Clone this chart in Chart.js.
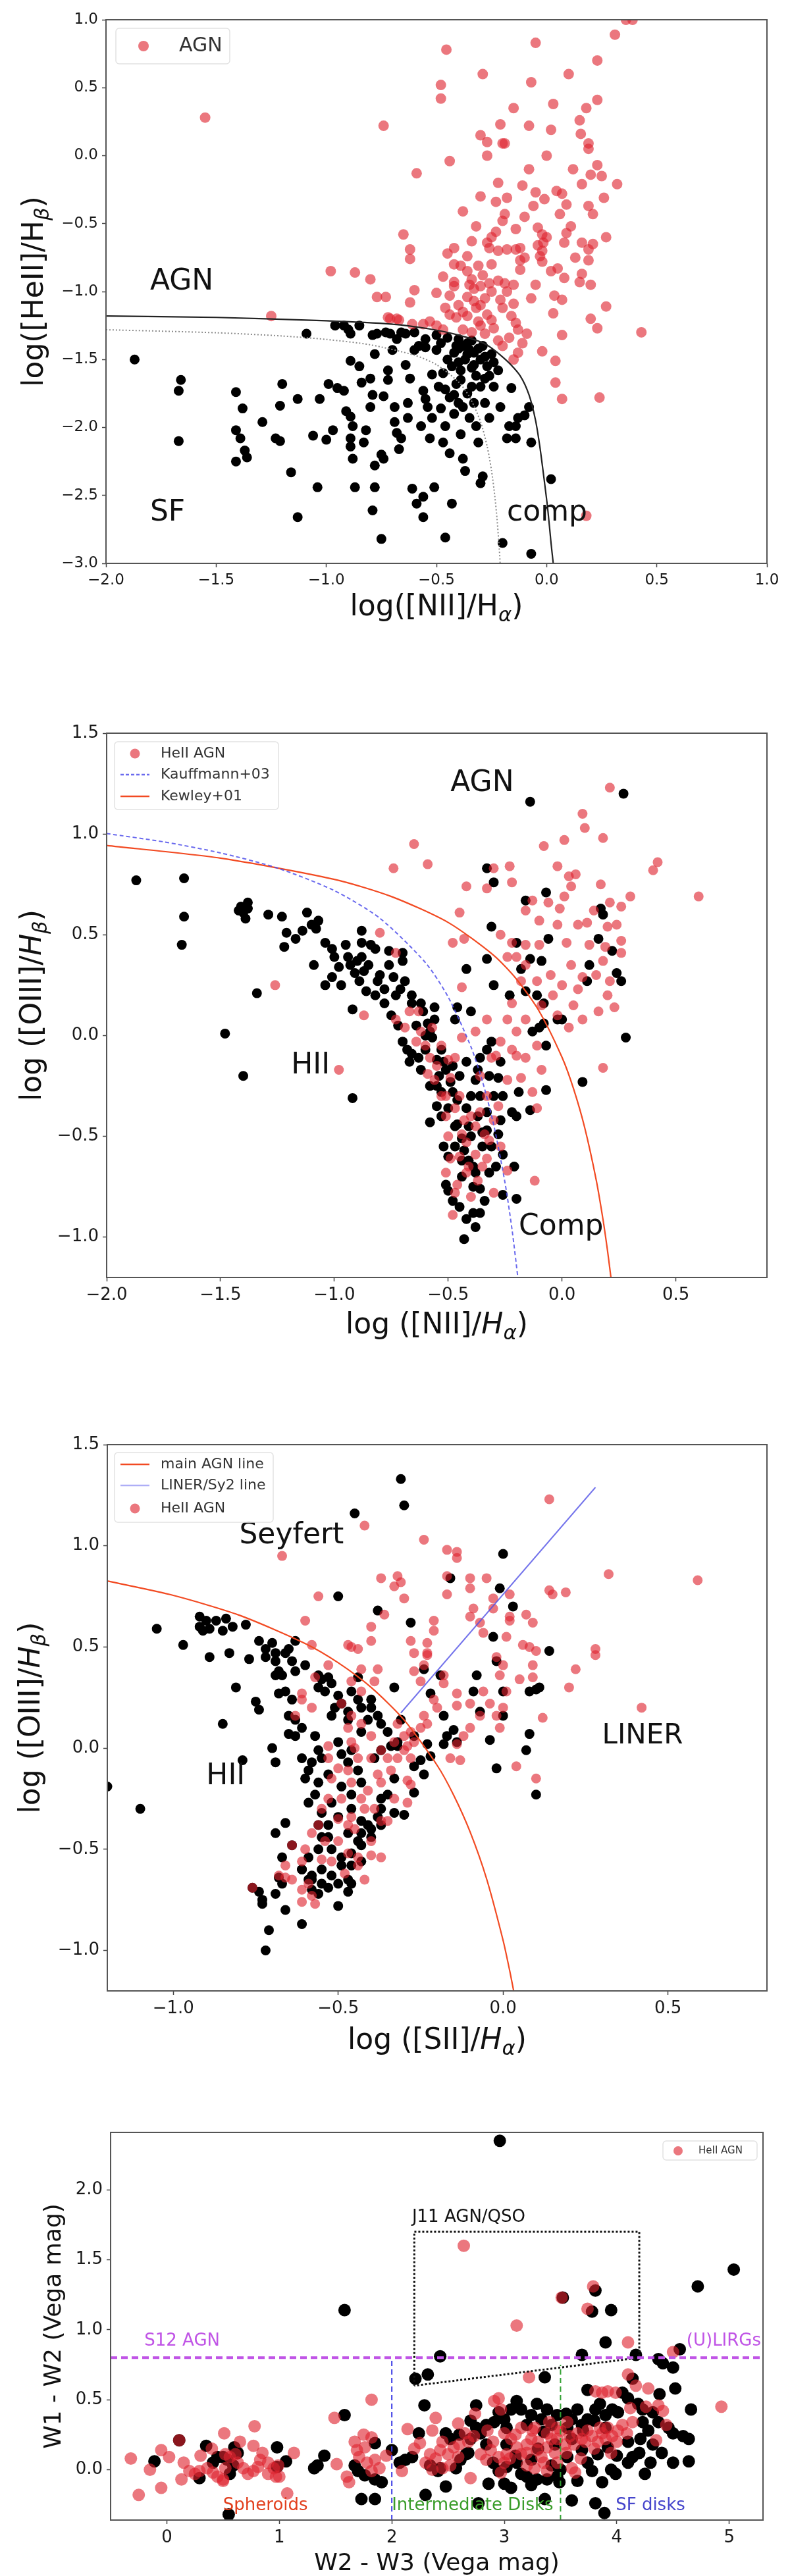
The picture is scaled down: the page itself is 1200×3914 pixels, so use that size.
<!DOCTYPE html>
<html>
<head>
<meta charset="utf-8">
<script src="https://cdn.jsdelivr.net/npm/chart.js@4.4.1/dist/chart.umd.min.js"></script>
<style>
  body { margin: 0; background: #fff; width: 1200px; height: 3914px; position: relative; }
  .panel { position: absolute; left: 0; width: 1200px; }
</style>
</head>
<body>
<div class="panel" style="top:0;height:960px"><canvas id="c1"></canvas></div>
<div class="panel" style="top:1060px;height:1000px"><canvas id="c2"></canvas></div>
<div class="panel" style="top:2140px;height:1000px"><canvas id="c3"></canvas></div>
<div class="panel" style="top:3200px;height:714px"><canvas id="c4"></canvas></div>
<script>
// ---- panel 1: HeII diagram ----
const p1XTicks = [-2, -1.5, -1, -0.5, 0, 0.5, 1];
const p1YTicks = [-3, -2.5, -2, -1.5, -1, -0.5, 0, 0.5, 1];
const p1SfBlack = [[-1.87,-1.50],[-1.66,-1.65],[-1.67,-1.73],[-1.67,-2.10],[-1.41,-1.74],[-1.38,-1.86],[-1.41,-2.02],[-1.39,-2.08],[-1.37,-2.17],[-1.36,-2.22],[-1.41,-2.25],[-1.29,-1.96],[-1.23,-2.08],[-1.21,-2.10],[-1.21,-1.84],[-1.20,-1.68],[-1.16,-2.33],[-1.13,-1.79],[-1.13,-2.66],[-1.09,-1.31],[-1.06,-2.06],[-1.03,-1.79],[-1.04,-2.44],[-1.00,-2.09],[-0.99,-1.68],[-0.97,-2.02],[-0.95,-1.71],[-0.92,-1.73],[-0.92,-1.25],[-0.89,-1.31],[-0.89,-1.51],[-0.91,-1.88],[-0.89,-1.92],[-0.88,-1.99],[-0.89,-2.08],[-0.89,-2.14],[-0.88,-2.23],[-0.87,-2.44],[-0.85,-1.25],[-0.85,-1.55],[-0.84,-1.67],[-0.83,-2.11],[-0.82,-2.02],[-0.80,-1.85],[-0.80,-1.64],[-0.79,-1.76],[-0.78,-2.28],[-0.78,-2.44],[-0.79,-2.61],[-0.78,-1.46],[-0.77,-1.31],[-0.75,-2.82],[-0.75,-2.20],[-0.74,-2.23],[-0.74,-1.77],[-0.72,-1.58],[-0.72,-1.65],[-0.71,-1.31],[-0.70,-1.43],[-0.69,-1.96],[-0.69,-1.85],[-0.68,-2.04],[-0.67,-2.16],[-0.66,-2.08],[-0.64,-1.31],[-0.64,-1.54],[-0.63,-1.82],[-0.63,-1.93],[-0.62,-1.64],[-0.61,-2.45],[-0.60,-1.43],[-0.59,-2.56],[-0.57,-1.99],[-0.56,-2.66],[-0.56,-2.51],[-0.56,-1.73],[-0.55,-1.79],[-0.54,-1.85],[-0.53,-2.08],[-0.52,-1.93],[-0.52,-1.61],[-0.51,-2.44],[-0.50,-1.43],[-0.49,-1.70],[-0.48,-1.86],[-0.47,-2.11],[-0.46,-2.81],[-0.46,-1.99],[-0.44,-2.19],[-0.43,-2.56],[-0.42,-1.76],[-0.41,-1.40],[-0.40,-1.52],[-0.40,-1.82],[-0.39,-1.65],[-0.39,-2.05],[-0.38,-2.23],[-0.37,-2.32],[-0.36,-1.46],[-0.35,-1.93],[-0.34,-1.70],[-0.33,-1.54],[-0.33,-1.82],[-0.32,-1.99],[-0.31,-2.11],[-0.30,-2.41],[-0.29,-2.36],[-0.28,-1.64],[-0.28,-1.82],[-0.26,-1.93],[-0.25,-1.46],[-0.24,-1.70],[-0.22,-1.58],[-0.21,-1.85],[-0.20,-2.85],[-0.18,-2.08],[-0.17,-1.99],[-0.16,-1.71],[-0.14,-2.08],[-0.14,-1.99],[-0.13,-1.93],[-0.10,-1.91],[-0.08,-1.85],[-0.07,-2.11],[-0.07,-2.93],[0.02,-2.38],[-0.42,-1.45],[-0.40,-1.42],[-0.38,-1.40],[-0.36,-1.38],[-0.35,-1.43],[-0.33,-1.45],[-0.31,-1.42],[-0.30,-1.50],[-0.28,-1.48],[-0.37,-1.50],[-0.34,-1.56],[-0.39,-1.58],[-0.43,-1.55],[-0.45,-1.50],[-0.47,-1.60],[-0.41,-1.68],[-0.36,-1.75],[-0.44,-1.78],[-0.38,-1.85],[-0.42,-1.90],[-0.46,-1.72],[-0.32,-1.62],[-0.27,-1.55],[-0.26,-1.62],[-0.24,-1.52],[-0.30,-1.70],[-0.34,-1.36],[-0.40,-1.35],[-0.29,-1.40],[-0.60,-1.30],[-0.55,-1.35],[-0.50,-1.32],[-0.48,-1.38],[-0.58,-1.40],[-0.68,-1.35],[-0.96,-1.25],[-0.90,-1.28],[-0.79,-1.32],[-0.73,-1.30],[-0.66,-1.30],[-0.55,-1.41],[-0.45,-1.34]];
const p1AgnRed = [[-1.55,0.28],[-1.25,-1.18],[-0.98,-0.85],[-0.87,-0.86],[-0.80,-0.91],[-0.77,-1.04],[-0.73,-1.04],[-0.74,0.22],[-0.71,-1.20],[-0.67,-1.21],[-0.65,-0.58],[-0.62,-0.69],[-0.62,-0.76],[-0.60,-0.99],[-0.62,-1.08],[-0.59,-0.13],[-0.56,-1.24],[-0.455,0.78],[-0.29,0.60],[-0.48,0.52],[-0.48,0.42],[-0.05,0.83],[0.10,0.60],[-0.07,0.54],[0.23,0.70],[0.31,0.89],[0.03,0.38],[0.18,0.35],[0.23,0.41],[-0.15,0.35],[0.15,0.26],[0.155,0.16],[0.19,0.09],[0.19,0.05],[-0.21,0.23],[-0.08,0.22],[0.02,0.19],[-0.30,0.15],[-0.27,0.10],[-0.20,0.09],[-0.19,0.09],[-0.27,0.0],[0.0,0.0],[-0.44,-0.04],[-0.08,-0.10],[0.23,-0.07],[0.20,-0.14],[-0.22,-0.20],[-0.11,-0.22],[0.16,-0.21],[0.32,-0.21],[-0.05,-0.27],[-0.01,-0.32],[0.045,-0.26],[0.07,-0.28],[0.09,-0.36],[-0.18,-0.31],[-0.23,-0.34],[-0.06,-0.37],[0.06,-0.43],[0.26,-0.31],[0.19,-0.37],[0.21,-0.43],[-0.38,-0.41],[-0.19,-0.43],[-0.20,-0.48],[-0.32,-0.52],[-0.23,-0.56],[-0.14,-0.54],[-0.04,-0.53],[-0.02,-0.58],[-0.015,-0.64],[-0.02,-0.70],[0.11,-0.52],[0.09,-0.57],[0.08,-0.64],[0.27,-0.60],[-0.34,-0.63],[-0.42,-0.68],[-0.45,-0.72],[-0.26,-0.68],[-0.22,-0.70],[-0.18,-0.69],[-0.14,-0.69],[-0.12,-0.68],[-0.04,-0.66],[-0.03,-0.74],[0.16,-0.64],[0.21,-0.65],[0.19,-0.69],[-0.36,-0.74],[-0.12,-0.77],[-0.10,-0.75],[0.13,-0.75],[0.19,-0.77],[-0.31,-0.81],[-0.42,-0.80],[-0.39,-0.81],[-0.02,-0.78],[0.02,-0.85],[0.05,-0.83],[0.08,-0.90],[-0.12,-0.84],[-0.47,-0.89],[-0.42,-0.93],[-0.42,-0.96],[-0.34,-0.91],[-0.30,-0.96],[-0.26,-0.94],[-0.22,-0.92],[-0.19,-0.94],[0.16,-0.87],[0.15,-0.93],[0.20,-0.95],[-0.50,-1.01],[-0.44,-1.03],[-0.36,-1.04],[-0.33,-1.07],[-0.28,-1.05],[-0.21,-1.06],[-0.15,-1.09],[-0.07,-1.05],[0.035,-1.03],[0.07,-1.06],[0.27,-1.11],[-0.44,-1.17],[-0.41,-1.19],[-0.36,-1.18],[-0.31,-1.22],[-0.27,-1.17],[-0.25,-1.21],[-0.16,-1.18],[-0.14,-1.23],[0.03,-1.16],[0.20,-1.20],[0.23,-1.27],[-0.72,-1.19],[-0.68,-1.20],[-0.53,-1.22],[-0.50,-1.25],[-0.47,-1.28],[-0.61,-1.24],[-0.38,-1.28],[-0.34,-1.30],[-0.28,-1.31],[-0.22,-1.36],[-0.09,-1.31],[-0.11,-1.38],[-0.13,-1.45],[-0.15,-1.50],[-0.02,-1.44],[0.04,-1.51],[0.07,-1.32],[0.04,-1.67],[0.07,-1.79],[0.24,-1.78],[0.43,-1.30],[0.36,1.0],[0.39,1.0],[0.18,-2.65],[-0.30,-0.30],[-0.25,-0.60],[-0.27,-0.64],[-0.36,-0.85],[-0.33,-0.98],[-0.25,-1.00],[-0.20,-1.12],[-0.32,-1.12],[-0.40,-1.10],[-0.46,-1.12],[-0.13,-1.28],[-0.17,-1.34],[-0.20,-1.40],[-0.24,-1.27],[-0.30,-1.25],[-0.35,-0.95],[-0.30,-1.10],[-0.25,-0.80],[-0.15,-0.95],[-0.05,-0.95],[0.0,-0.60],[-0.10,-0.45],[0.12,-0.10],[0.25,-0.15],[-0.38,-1.15],[-0.29,-0.88],[-0.18,-1.00]];
const p1AgnLine = [[-2.0,-1.18],[-1.5,-1.19],[-1.0,-1.215],[-0.7,-1.24],[-0.55,-1.27],[-0.4,-1.32],[-0.28,-1.385],[-0.18,-1.51],[-0.12,-1.62],[-0.08,-1.76],[-0.05,-1.95],[-0.03,-2.15],[-0.01,-2.4],[0.005,-2.6],[0.02,-2.85],[0.03,-3.0]];
const p1SbLine = [[-2.0,-1.281],[-1.5,-1.303],[-1.2,-1.327],[-1.0,-1.352],[-0.8,-1.392],[-0.6,-1.468],[-0.5,-1.538],[-0.4,-1.665],[-0.35,-1.775],[-0.3,-1.957],[-0.27,-2.139],[-0.25,-2.319],[-0.235,-2.509],[-0.225,-2.676],[-0.215,-2.892],[-0.211,-3.0]];

// ---- panel 2: [NII] BPT ----
const p2XTicks = [-2, -1.5, -1, -0.5, 0, 0.5];
const p2YTicks = [-1, -0.5, 0, 0.5, 1, 1.5];
const p2Black = [[-1.87,0.77],[-1.66,0.78],[-1.66,0.59],[-1.67,0.45],[-1.48,0.01],[-1.40,-0.20],[-1.34,0.21],[-1.41,0.64],[-1.40,0.61],[-1.38,0.63],[-1.39,0.58],[-1.42,0.62],[-1.38,0.66],[-1.29,0.60],[-1.23,0.59],[-1.21,0.51],[-1.22,0.44],[-1.17,0.48],[-1.14,0.52],[-1.12,0.61],[-1.08,0.53],[-1.07,0.57],[-1.09,0.35],[-1.04,0.46],[-1.01,0.43],[-1.04,0.25],[-1.01,0.29],[-1.00,0.39],[-0.98,0.34],[-0.94,0.39],[-0.93,0.35],[-0.91,0.31],[-0.89,0.27],[-0.90,0.37],[-0.88,0.39],[-0.87,0.32],[-0.88,0.52],[-0.88,0.46],[-0.92,0.13],[-0.92,-0.31],[-0.84,0.45],[-0.82,0.43],[-0.81,0.27],[-0.82,0.20],[-0.86,0.22],[-0.78,0.23],[-0.78,0.16],[-0.76,0.42],[-0.74,0.29],[-0.73,0.20],[-0.71,0.23],[-0.70,0.37],[-0.69,0.27],[-0.66,0.20],[-0.66,0.16],[-0.70,0.41],[-0.62,0.16],[-0.61,0.12],[-0.59,0.06],[-0.58,0.02],[-0.57,-0.01],[-0.56,0.08],[-0.70,-0.03],[-0.68,-0.07],[-0.66,-0.09],[-0.63,-0.11],[-0.60,-0.07],[-0.67,-0.13],[-0.62,-0.17],[-0.56,0.14],[-0.53,-0.07],[-0.52,-0.13],[-0.51,-0.17],[-0.54,-0.20],[-0.49,-0.23],[-0.48,-0.28],[-0.46,-0.32],[-0.53,-0.28],[-0.50,-0.36],[-0.58,-0.43],[-0.52,-0.55],[-0.51,-0.74],[-0.50,-0.77],[-0.48,-0.82],[-0.43,-1.01],[-0.42,-0.91],[-0.39,-0.88],[-0.46,-0.44],[-0.44,-0.51],[-0.43,-0.57],[-0.41,-0.62],[-0.39,-0.65],[-0.38,-0.68],[-0.36,-0.76],[-0.34,-0.82],[-0.42,-0.36],[-0.40,-0.30],[-0.38,-0.22],[-0.37,-0.17],[-0.36,-0.11],[-0.33,-0.07],[-0.31,-0.03],[-0.46,0.14],[-0.47,0.08],[-0.40,0.12],[-0.37,-0.40],[-0.33,-0.47],[-0.31,-0.55],[-0.28,-0.49],[-0.27,-0.42],[-0.30,-0.30],[-0.28,-0.21],[-0.27,-0.13],[-0.32,-0.68],[-0.29,-0.65],[-0.26,-0.59],[-0.26,-0.79],[-0.26,-0.30],[-0.22,-0.38],[-0.21,-0.65],[-0.20,-0.81],[-0.19,-0.28],[-0.20,-0.40],[-0.42,0.33],[-0.33,0.38],[-0.30,0.25],[-0.33,0.83],[-0.30,0.76],[-0.31,0.54],[-0.23,0.20],[-0.20,0.46],[-0.18,0.33],[-0.16,0.67],[-0.16,0.22],[-0.11,0.20],[-0.08,0.16],[-0.13,0.02],[-0.10,0.04],[-0.08,0.06],[-0.07,-0.05],[-0.07,-0.27],[-0.06,0.48],[-0.09,0.37],[-0.07,0.71],[-0.14,0.38],[-0.02,0.08],[0.0,0.08],[0.09,-0.23],[0.11,0.27],[0.12,0.35],[0.16,0.48],[0.17,0.63],[0.18,0.60],[0.22,0.42],[0.24,0.31],[0.26,0.27],[0.28,-0.01],[-0.14,-0.37],[0.27,1.20],[-0.14,1.16],[-0.55,-0.35],[-0.45,-0.20],[-0.50,-0.60],[-0.44,-0.70],[-0.35,-0.55],[-0.40,-0.50],[-0.36,-0.30],[-0.32,-0.20],[-0.47,-0.45],[-0.55,-0.25],[-0.60,0.0],[-0.64,0.05],[-0.75,0.10],[-0.80,0.30],[-0.95,0.45],[-0.97,0.25],[-1.10,0.55],[-0.85,0.35],[-0.76,0.35],[-0.72,0.05],[-0.55,-0.12],[-0.42,-0.13],[-0.38,-0.95],[-0.45,-0.85],[-0.36,-0.88],[-0.44,-0.62],[-0.41,-0.45],[-0.47,-0.55],[-0.35,-0.48],[-0.39,-0.75],[-0.33,-0.38],[-0.48,-0.15],[-0.58,-0.25],[-0.53,-0.40]];
const p2HeiiRed = [[-1.26,0.25],[-0.98,-0.17],[-0.87,0.10],[-0.80,0.51],[-0.74,0.83],[-0.73,0.41],[-0.65,0.95],[-0.63,0.12],[-0.59,0.85],[-0.57,0.04],[-0.48,0.46],[-0.45,0.61],[-0.44,0.24],[-0.43,0.48],[-0.42,0.74],[-0.33,0.73],[-0.30,0.83],[-0.23,0.84],[-0.22,0.76],[-0.27,0.50],[-0.22,0.46],[-0.16,0.45],[-0.16,0.62],[-0.13,0.67],[-0.10,0.57],[-0.08,0.94],[-0.06,0.66],[-0.02,0.55],[-0.02,0.84],[-0.01,0.63],[0.01,0.97],[0.01,0.69],[0.02,0.46],[0.03,0.79],[0.06,0.80],[0.04,0.74],[0.09,1.10],[0.10,1.03],[0.11,0.56],[0.14,0.62],[0.17,0.75],[0.18,0.98],[0.19,0.44],[0.21,1.23],[0.21,0.66],[0.26,0.64],[0.26,0.47],[0.26,0.41],[0.30,0.69],[0.40,0.82],[0.42,0.86],[0.60,0.69],[0.18,-0.16],[0.16,0.12],[0.23,0.14],[0.21,0.27],[0.18,0.37],[0.20,0.54],[0.04,0.35],[0.09,0.29],[0.07,0.23],[0.0,0.25],[-0.04,0.20],[0.03,0.04],[0.09,0.08],[-0.02,0.10],[-0.09,0.15],[-0.11,0.27],[-0.16,0.35],[-0.20,0.39],[-0.18,0.27],[-0.24,0.39],[-0.22,0.16],[-0.24,0.08],[-0.16,0.08],[-0.20,0.02],[-0.11,-0.05],[-0.16,-0.11],[-0.22,-0.07],[-0.09,-0.17],[-0.18,-0.21],[-0.13,-0.28],[-0.11,-0.36],[-0.24,-0.22],[-0.31,-0.11],[-0.27,-0.03],[-0.33,0.08],[-0.38,0.02],[-0.12,-0.72],[-0.30,-0.42],[-0.27,-0.55],[-0.24,-0.67],[-0.33,-0.30],[-0.34,-0.49],[-0.40,-0.40],[-0.38,-0.59],[-0.42,-0.68],[-0.40,-0.80],[-0.44,-0.49],[-0.48,-0.89],[-0.47,-0.78],[-0.49,-0.61],[-0.51,-0.40],[-0.53,-0.30],[-0.49,-0.21],[-0.47,-0.11],[-0.44,-0.01],[-0.53,-0.05],[-0.58,-0.11],[-0.62,0.02],[-0.64,-0.03],[-0.59,-0.19],[-0.56,-0.22],[-0.51,-0.30],[-0.47,-0.36],[-0.42,-0.53],[-0.41,-0.65],[-0.37,-0.72],[-0.33,-0.61],[-0.30,-0.78],[-0.46,-0.74],[-0.51,-0.68],[-0.73,0.08],[-0.69,0.04],[-0.67,0.12],[-0.45,-0.60],[-0.38,-0.45],[-0.35,-0.65],[-0.43,-0.42],[-0.50,-0.50],[-0.36,-0.38],[-0.32,-0.52],[-0.28,-0.35],[-0.45,-0.30],[-0.55,-0.15],[-0.60,-0.05],[-0.50,-0.12],[-0.36,-0.20],[-0.29,-0.10],[-0.20,-0.10],[-0.05,0.30],[0.05,0.15],[0.12,0.45],[0.15,0.30],[0.20,0.20],[-0.10,0.45],[0.07,0.55],[0.24,0.55]];
const p2Kauffmann = [[-2.0,1.002],[-1.75,0.961],[-1.5,0.906],[-1.25,0.831],[-1.0,0.719],[-0.8,0.582],[-0.6,0.362],[-0.5,0.191],[-0.4,-0.056],[-0.35,-0.225],[-0.3,-0.443],[-0.25,-0.733],[-0.22,-0.959],[-0.194,-1.2]];
const p2Kewley = [[-2.0,0.943],[-1.5,0.880],[-1.0,0.775],[-0.75,0.690],[-0.5,0.561],[-0.3,0.398],[-0.2,0.280],[-0.1,0.120],[0.0,-0.108],[0.05,-0.262],[0.1,-0.459],[0.15,-0.716],[0.18,-0.913],[0.2,-1.069],[0.215,-1.202]];

// ---- panel 3: [SII] BPT ----
const p3XTicks = [-1, -0.5, 0, 0.5];
const p3YTicks = [-1, -0.5, 0, 0.5, 1, 1.5];
const p3Black = [[-1.20,-0.19],[-1.10,-0.30],[-1.05,0.59],[-0.97,0.51],[-0.92,0.65],[-0.92,0.60],[-0.90,0.63],[-0.89,0.59],[-0.87,0.63],[-0.84,0.64],[-0.85,0.58],[-0.82,0.60],[-0.91,0.58],[-0.78,0.61],[-0.89,0.45],[-0.83,0.47],[-0.81,0.30],[-0.85,0.12],[-0.79,-0.06],[-0.75,0.23],[-0.74,0.19],[-0.70,0.0],[-0.69,-0.07],[-0.77,0.44],[-0.74,0.53],[-0.72,0.49],[-0.72,0.45],[-0.70,0.52],[-0.69,0.47],[-0.69,0.43],[-0.68,0.38],[-0.66,0.47],[-0.65,0.49],[-0.64,0.43],[-0.63,0.38],[-0.67,0.36],[-0.63,0.53],[-0.60,0.41],[-0.69,0.36],[-0.68,0.27],[-0.66,0.28],[-0.64,0.24],[-0.65,0.16],[-0.63,0.14],[-0.61,0.10],[-0.63,0.06],[-0.65,0.07],[-0.56,0.36],[-0.55,0.34],[-0.53,0.35],[-0.52,0.32],[-0.56,0.30],[-0.54,0.28],[-0.50,0.26],[-0.49,0.22],[-0.51,0.20],[-0.47,0.18],[-0.46,0.28],[-0.44,0.24],[-0.43,0.20],[-0.40,0.24],[-0.47,0.14],[-0.52,0.16],[-0.57,0.06],[-0.56,-0.01],[-0.58,-0.07],[-0.55,-0.05],[-0.59,-0.11],[-0.53,-0.13],[-0.56,-0.17],[-0.61,-0.05],[-0.60,-0.15],[-0.57,-0.23],[-0.59,-0.27],[-0.55,-0.32],[-0.52,-0.27],[-0.53,-0.38],[-0.56,-0.38],[-0.50,0.03],[-0.49,-0.03],[-0.46,-0.01],[-0.47,-0.07],[-0.44,-0.11],[-0.43,-0.17],[-0.46,-0.23],[-0.49,-0.19],[-0.50,-0.34],[-0.46,-0.30],[-0.43,-0.36],[-0.47,-0.42],[-0.44,-0.46],[-0.52,-0.50],[-0.49,-0.54],[-0.46,-0.58],[-0.47,-0.65],[-0.52,-0.63],[-0.55,-0.67],[-0.58,-0.65],[-0.61,-0.60],[-0.59,-0.54],[-0.56,-0.50],[-0.53,-0.44],[-0.55,-0.44],[-0.43,-0.42],[-0.41,-0.38],[-0.40,-0.40],[-0.38,-0.34],[-0.37,-0.25],[-0.37,-0.30],[-0.39,-0.05],[-0.37,-0.01],[-0.34,0.01],[-0.32,0.03],[-0.35,0.08],[-0.37,0.12],[-0.38,0.16],[-0.40,0.20],[-0.41,0.14],[-0.43,0.08],[-0.31,0.14],[-0.24,0.39],[-0.33,0.30],[-0.44,0.35],[-0.38,0.68],[-0.50,0.75],[-0.45,1.16],[-0.31,1.33],[-0.30,1.20],[-0.16,0.84],[-0.28,0.62],[0.0,0.96],[-0.01,0.79],[0.03,0.70],[-0.03,0.55],[0.14,0.48],[-0.08,0.36],[-0.19,0.36],[-0.22,0.27],[-0.18,0.16],[-0.15,0.09],[-0.17,0.06],[-0.14,0.03],[-0.18,0.02],[-0.22,-0.04],[-0.24,-0.13],[-0.27,-0.22],[-0.30,-0.33],[-0.02,-0.10],[0.07,-0.01],[0.08,0.07],[0.10,-0.23],[0.08,0.28],[0.10,0.29],[0.11,0.30],[-0.04,0.04],[0.0,0.16],[-0.07,0.18],[-0.09,0.28],[-0.02,0.43],[0.0,0.28],[-0.32,0.01],[-0.27,0.06],[-0.23,0.02],[-0.27,-0.09],[-0.25,-0.06],[-0.33,-0.15],[-0.35,-0.23],[-0.33,-0.32],[-0.37,-0.38],[-0.40,-0.44],[-0.43,-0.48],[-0.46,-0.52],[-0.49,-0.58],[-0.50,-0.67],[-0.47,-0.71],[-0.46,-0.67],[-0.43,-0.56],[-0.67,-0.54],[-0.64,-0.48],[-0.66,-0.37],[-0.69,-0.42],[-0.68,-0.64],[-0.67,-0.67],[-0.61,-0.60],[-0.59,-0.65],[-0.58,-0.63],[-0.55,-0.60],[-0.76,-0.69],[-0.74,-0.71],[-0.73,-0.75],[-0.73,-0.77],[-0.69,-0.72],[-0.66,-0.80],[-0.50,-0.78],[-0.61,-0.87],[-0.71,-0.90],[-0.72,-1.0],[-0.58,-0.70],[-0.56,-0.72],[-0.53,-0.69]];
const p3HeiiRed = [[-0.42,1.10],[-0.67,0.95],[-0.24,1.03],[-0.17,0.98],[-0.14,0.97],[-0.14,0.94],[0.14,1.23],[-0.37,0.84],[-0.32,0.85],[-0.31,0.82],[-0.33,0.80],[-0.30,0.74],[-0.56,0.75],[-0.60,0.63],[-0.58,0.51],[-0.47,0.51],[-0.46,0.50],[-0.44,0.49],[-0.40,0.53],[-0.40,0.60],[-0.36,0.66],[-0.28,0.53],[-0.27,0.47],[-0.21,0.63],[-0.21,0.58],[-0.23,0.52],[-0.23,0.47],[-0.17,0.85],[-0.17,0.76],[-0.10,0.84],[-0.10,0.79],[-0.05,0.84],[-0.09,0.69],[-0.10,0.65],[-0.07,0.62],[-0.06,0.57],[-0.03,0.74],[-0.03,0.69],[0.02,0.76],[0.02,0.65],[0.02,0.63],[0.01,0.55],[0.07,0.66],[0.09,0.62],[0.06,0.51],[0.08,0.50],[0.10,0.48],[0.14,0.78],[0.19,0.77],[0.15,0.76],[0.32,0.86],[0.59,0.83],[0.28,0.49],[0.28,0.46],[0.22,0.39],[0.20,0.30],[0.42,0.20],[0.12,0.15],[0.09,0.41],[0.09,0.35],[0.05,0.34],[0.0,0.41],[-0.02,0.45],[-0.01,0.36],[0.01,0.28],[0.0,0.20],[-0.02,0.16],[-0.01,0.10],[-0.06,0.28],[-0.04,0.22],[-0.07,0.16],[-0.10,0.22],[-0.10,0.10],[-0.12,0.06],[-0.14,0.02],[0.04,-0.09],[0.10,-0.15],[-0.16,-0.05],[-0.13,-0.06],[-0.14,0.27],[-0.14,0.21],[-0.18,0.36],[-0.18,0.32],[-0.23,0.46],[-0.24,0.41],[-0.27,0.38],[-0.25,0.33],[-0.21,0.24],[-0.20,0.20],[-0.24,0.16],[-0.23,0.12],[-0.25,0.10],[-0.28,0.08],[-0.30,0.06],[-0.32,0.12],[-0.33,0.03],[-0.30,-0.01],[-0.28,-0.05],[-0.29,0.01],[-0.29,-0.16],[-0.28,-0.18],[-0.29,-0.27],[-0.39,0.33],[-0.38,0.39],[-0.43,0.39],[-0.46,0.33],[-0.43,0.28],[-0.53,0.41],[-0.57,0.35],[-0.61,0.27],[-0.49,0.22],[-0.46,0.16],[-0.43,0.12],[-0.40,0.06],[-0.37,-0.01],[-0.40,-0.05],[-0.38,-0.13],[-0.41,-0.21],[-0.39,-0.30],[-0.37,-0.36],[-0.40,-0.46],[-0.37,-0.54],[-0.47,0.10],[-0.46,0.03],[-0.44,-0.05],[-0.47,-0.11],[-0.46,-0.17],[-0.49,-0.25],[-0.46,-0.34],[-0.47,-0.38],[-0.50,-0.46],[-0.52,-0.56],[-0.47,-0.52],[-0.44,-0.58],[-0.55,-0.30],[-0.56,-0.38],[-0.54,-0.46],[-0.58,-0.42],[-0.53,-0.25],[-0.52,-0.15],[-0.53,-0.05],[-0.59,-0.67],[-0.61,-0.56],[-0.57,-0.77],[-0.61,-0.70],[-0.58,-0.73],[-0.66,-0.58],[-0.66,-0.64],[-0.68,-0.63],[-0.64,-0.65],[-0.76,-0.69],[-0.61,-0.76],[-0.64,-0.48],[-0.44,-0.54],[-0.40,-0.53],[-0.61,0.24],[-0.58,0.20],[-0.63,0.16],[-0.53,0.01],[-0.43,-0.25],[-0.35,-0.36],[-0.33,-0.25],[-0.37,-0.17],[-0.34,-0.11],[-0.32,-0.05],[-0.27,0.03],[-0.50,-0.10],[-0.45,-0.40],[-0.42,-0.30],[-0.50,-0.35],[-0.55,-0.55],[-0.48,-0.62],[-0.42,-0.65],[-0.60,-0.50],[-0.35,-0.05],[-0.45,0.0]];
const p3MainLine = [[-1.2,0.826],[-1.0,0.755],[-0.8,0.657],[-0.6,0.517],[-0.5,0.422],[-0.4,0.30],[-0.3,0.139],[-0.2,-0.085],[-0.15,-0.232],[-0.1,-0.414],[-0.05,-0.646],[0.0,-0.95],[0.02,-1.1],[0.032,-1.2]];
const p3LinerLine = [[-0.31,0.174],[0.28,1.289]];

// ---- panel 4: WISE colours ----
const p4XTicks = [0, 1, 2, 3, 4, 5];
const p4YTicks = [0, 0.5, 1, 1.5, 2];
const p4Black = [[2.96,2.35],[1.58,1.14],[2.21,0.65],[2.32,0.68],[2.43,0.81],[3.36,0.66],[3.69,0.82],[3.81,1.28],[3.78,1.13],[3.52,1.23],[3.95,1.14],[3.90,0.91],[4.17,0.82],[4.37,0.79],[4.41,0.76],[4.50,0.73],[4.56,0.86],[4.72,1.31],[5.04,1.43],[4.14,0.65],[4.52,0.58],[4.38,0.54],[3.74,0.57],[4.05,0.55],[4.10,0.51],[4.19,0.47],[4.23,0.43],[4.32,0.41],[4.37,0.34],[4.46,0.30],[4.50,0.26],[4.59,0.24],[4.64,0.22],[4.66,0.43],[4.64,0.06],[4.23,0.34],[4.28,0.28],[4.21,0.22],[4.32,0.18],[4.25,-0.03],[4.10,0.05],[4.14,0.09],[3.99,-0.03],[3.87,-0.09],[3.81,-0.24],[3.89,-0.31],[3.60,-0.22],[3.74,0.05],[3.83,0.11],[3.92,0.16],[3.96,0.43],[4.01,0.41],[3.90,0.39],[3.85,0.47],[3.81,0.43],[3.74,0.36],[3.69,0.32],[3.65,0.43],[3.60,0.36],[3.56,0.30],[3.47,0.39],[3.42,0.32],[3.38,0.43],[3.33,0.36],[3.29,0.47],[3.24,0.39],[3.20,0.32],[3.15,0.43],[3.11,0.49],[3.06,0.43],[3.0,0.36],[2.95,0.41],[2.91,0.34],[2.84,0.32],[2.79,0.26],[3.02,0.18],[3.11,0.05],[3.24,0.07],[3.42,0.03],[3.56,0.09],[3.69,0.14],[3.02,0.30],[2.84,0.18],[2.66,0.11],[3.78,-0.01],[3.29,-0.07],[3.20,-0.05],[3.24,-0.11],[3.38,-0.07],[3.47,-0.05],[3.49,-0.09],[3.36,-0.21],[3.06,-0.13],[2.86,-0.10],[2.77,-0.24],[3.02,0.02],[2.95,-0.01],[2.68,0.12],[2.61,0.07],[2.57,0.01],[2.52,0.22],[2.48,0.26],[2.43,0.01],[2.48,-0.12],[2.30,-0.18],[2.34,0.03],[2.41,-0.01],[2.29,0.46],[2.24,0.26],[2.18,0.09],[2.12,0.07],[2.07,0.05],[2.75,0.46],[2.70,0.22],[2.75,0.30],[2.0,0.14],[1.85,0.19],[1.85,-0.07],[1.91,-0.09],[1.73,-0.21],[1.85,-0.21],[1.70,-0.01],[1.76,-0.04],[1.67,0.03],[1.58,0.39],[1.40,0.10],[1.31,0.01],[1.34,0.03],[0.98,0.16],[1.06,0.06],[0.98,0.02],[0.55,-0.32],[0.60,0.16],[0.63,0.12],[0.54,0.07],[0.59,0.03],[0.50,0.09],[0.56,-0.03],[0.41,0.05],[0.45,0.09],[0.35,0.17],[0.29,-0.06],[0.11,0.21],[-0.11,0.06],[3.30,0.15],[3.45,0.18],[3.60,0.22],[3.70,0.28],[3.80,0.35],[3.90,0.30],[4.00,0.10],[4.10,0.20],[4.20,0.12],[3.50,0.0],[3.10,0.10],[2.90,0.05],[3.00,-0.10],[3.15,-0.03],[2.70,0.35],[2.60,0.25],[3.35,0.27],[3.55,0.40],[4.30,0.05],[4.40,0.12],[4.50,0.05],[3.95,0.0],[3.65,-0.08]];
const p4HeiiRed = [[-0.32,0.08],[-0.25,-0.18],[-0.05,-0.13],[-0.05,0.14],[0.02,0.09],[0.11,0.21],[0.13,-0.07],[0.20,-0.01],[0.25,-0.03],[0.29,-0.01],[0.36,0.01],[0.41,-0.02],[0.45,-0.05],[0.50,-0.07],[0.52,0.01],[0.51,0.26],[0.52,0.11],[0.56,0.09],[0.61,0.11],[0.63,0.05],[0.68,0.01],[0.72,-0.03],[0.77,-0.01],[0.81,0.02],[0.77,0.17],[0.78,0.31],[0.83,0.07],[0.90,0.05],[0.95,0.01],[0.99,0.03],[0.90,-0.03],[0.97,-0.05],[1.07,-0.17],[1.13,0.12],[0.50,-0.08],[1.49,0.37],[1.51,0.04],[1.60,-0.05],[1.62,-0.09],[1.67,0.20],[1.69,0.14],[1.76,0.16],[1.71,0.09],[1.78,0.05],[1.85,0.07],[1.89,0.01],[1.82,-0.01],[1.82,0.50],[1.82,0.23],[2.09,-0.01],[2.14,0.29],[2.25,0.19],[2.36,0.28],[2.39,0.37],[2.34,0.11],[2.39,0.08],[2.43,0.14],[2.50,0.11],[2.55,0.16],[2.59,0.09],[2.52,0.03],[2.45,0.01],[2.36,0.0],[2.59,0.33],[2.65,0.26],[2.68,0.20],[2.73,0.24],[2.70,-0.06],[2.74,0.40],[2.64,1.60],[2.79,0.11],[2.84,0.07],[2.88,0.14],[2.95,0.09],[3.0,0.05],[3.02,0.11],[2.91,0.49],[2.95,0.51],[2.97,0.43],[2.97,-0.02],[3.11,1.03],[3.22,0.66],[3.06,0.22],[3.11,0.16],[3.15,0.11],[3.20,0.18],[3.24,0.22],[3.29,0.14],[3.33,0.09],[3.38,0.16],[3.42,0.22],[3.38,0.26],[3.27,0.30],[3.20,0.03],[3.27,0.01],[3.38,-0.01],[3.51,1.23],[3.47,0.22],[3.54,0.18],[3.58,0.24],[3.65,0.26],[3.69,0.22],[3.74,0.28],[3.78,0.24],[3.83,0.20],[3.87,0.26],[3.92,0.30],[3.96,0.24],[4.01,0.28],[4.05,0.32],[4.09,0.26],[4.14,0.34],[3.63,-0.02],[3.74,1.15],[3.79,1.31],[3.81,0.56],[3.87,0.55],[3.92,0.56],[3.99,0.55],[4.10,0.91],[4.10,0.68],[4.17,0.60],[4.28,0.58],[4.12,0.44],[4.26,0.45],[4.37,0.46],[4.41,0.42],[4.44,0.32],[4.35,0.21],[4.50,0.84],[4.93,0.45],[3.40,0.34],[3.47,0.30],[3.56,0.34],[3.60,0.01],[3.47,0.05],[3.10,0.25],[3.20,0.12],[3.30,0.20],[3.35,0.05],[3.45,0.12],[3.50,0.28],[3.55,0.12],[3.62,0.18],[3.68,0.08],[3.72,0.20],[3.80,0.15],[3.85,0.30],[3.90,0.22],[3.95,0.12],[4.00,0.20],[3.25,0.28],[3.15,0.30],[3.05,0.08],[2.90,0.20],[2.85,0.28],[3.00,0.26],[2.60,0.18],[2.45,0.20],[2.30,0.05],[2.20,0.15],[1.95,0.10],[1.75,0.25],[0.30,0.10],[0.40,0.15],[0.65,0.20],[0.85,0.12],[1.00,-0.05],[0.15,0.05],[-0.15,0.0]];
const p4S12Line = [[-0.5,0.8],[5.3,0.8]];
const p4J11Box = [[2.2,0.6],[2.2,1.7],[4.2,1.7],[4.2,0.8],[2.2,0.6]];
const p4SpheroidCut = [[2.0,-0.36],[2.0,0.8]];
const p4DiskCut = [[3.5,-0.36],[3.5,0.75]];

// ---- styling ----
const FONT = '"DejaVu Sans", sans-serif';
const RED = 'rgba(222, 36, 46, 0.62)';
const ORANGE = 'rgb(242, 74, 34)';
const KBLUE = 'rgba(80, 80, 235, 0.85)';
const LBLUE = 'rgba(80, 80, 230, 0.8)';
const PURPLE = 'rgb(192, 84, 230)';

function pts(arr) { return arr.map(p => ({x: p[0], y: p[1]})); }

function fmtTick(v, dec) {
  const r = Math.abs(v) < 1e-9 ? 0 : v;
  return (r < 0 ? '\u2212' : '') + Math.abs(r).toFixed(dec);
}

function segFont(s, size) {
  const sz = s.sub ? size * 0.7 : size;
  return (s.it ? 'italic ' : '') + sz + 'px ' + FONT;
}

function drawRich(ctx, segs, cx, cy, size, rotate) {
  ctx.save();
  ctx.translate(cx, cy);
  if (rotate) ctx.rotate(-Math.PI / 2);
  let w = 0;
  segs.forEach(s => { ctx.font = segFont(s, size); w += ctx.measureText(s.t).width; });
  let x = -w / 2;
  ctx.textAlign = 'left';
  ctx.textBaseline = 'alphabetic';
  ctx.fillStyle = '#111';
  segs.forEach(s => {
    ctx.font = segFont(s, size);
    ctx.fillText(s.t, x, size * 0.36 + (s.sub ? size * 0.2 : 0));
    x += ctx.measureText(s.t).width;
  });
  ctx.restore();
}

// frame, axis titles, legend and text labels
function decor(p) {
  return {
    id: 'decor',
    afterDatasetsDraw(chart) {
      const {ctx, chartArea: a, scales} = chart;
      // text labels inside the axes
      ctx.save();
      ctx.beginPath();
      ctx.rect(a.left, a.top, a.right - a.left, a.bottom - a.top);
      ctx.clip();
      p.notes.forEach(n => {
        ctx.font = n.size + 'px ' + FONT;
        ctx.fillStyle = n.color || '#111';
        ctx.textAlign = 'left';
        ctx.textBaseline = 'middle';
        ctx.fillText(n.text, scales.x.getPixelForValue(n.x), scales.y.getPixelForValue(n.y));
      });
      ctx.restore();

      // frame
      ctx.save();
      ctx.strokeStyle = '#555';
      ctx.lineWidth = 2;
      ctx.strokeRect(a.left, a.top, a.right - a.left, a.bottom - a.top);
      ctx.restore();

      // legend
      const L = p.legend;
      const bx = L.right ? a.right - L.dx : a.left + L.dx;
      const by = a.top + L.dy;
      ctx.save();
      ctx.fillStyle = 'rgba(255,255,255,0.85)';
      ctx.strokeStyle = '#e2e2e2';
      ctx.lineWidth = 1.5;
      ctx.beginPath();
      ctx.roundRect(bx, by, L.w, L.h, 5);
      ctx.fill();
      ctx.stroke();
      L.rows.forEach(r => {
        const y = by + r.y;
        if (r.type === 'dot') {
          ctx.fillStyle = r.color;
          ctx.beginPath();
          ctx.arc(bx + L.markX, y, r.r, 0, Math.PI * 2);
          ctx.fill();
        } else {
          ctx.strokeStyle = r.color;
          ctx.lineWidth = 2.5;
          ctx.setLineDash(r.dash || []);
          ctx.beginPath();
          ctx.moveTo(bx + L.markX - 22, y);
          ctx.lineTo(bx + L.markX + 22, y);
          ctx.stroke();
          ctx.setLineDash([]);
        }
        ctx.fillStyle = '#333';
        ctx.font = L.font + 'px ' + FONT;
        ctx.textAlign = 'left';
        ctx.textBaseline = 'middle';
        ctx.fillText(r.text, bx + L.textX, y);
      });
      ctx.restore();

      // axis titles
      drawRich(ctx, p.xTitle, (a.left + a.right) / 2, p.xTitleY, p.titleSize, false);
      drawRich(ctx, p.yTitle, p.yTitleX, (a.top + a.bottom) / 2, p.titleSize, true);
    }
  };
}

function axis(p, which) {
  const isX = which === 'x';
  return {
    type: 'linear',
    position: isX ? 'bottom' : 'left',
    min: isX ? p.xMin : p.yMin,
    max: isX ? p.xMax : p.yMax,
    afterFit: s => { if (isX) s.height = p.xAxisH; else s.width = p.yAxisW; },
    afterBuildTicks: s => { s.ticks = (isX ? p.xTicks : p.yTicks).map(v => ({value: v})); },
    ticks: {
      autoSkip: false, maxRotation: 0, padding: 6, color: '#1a1a1a',
      font: {family: FONT, size: p.tickSize},
      callback: v => fmtTick(v, isX ? p.xDec : p.yDec)
    },
    grid: {drawOnChartArea: false, drawTicks: true, tickLength: 6, tickWidth: 1.5, color: '#444'},
    border: {display: false},
    title: {display: false}
  };
}

// curves get a little smoothing, straight guides none
function lineSet(data, color, width, dash, tension) {
  return {type: 'scatter', data: pts(data), showLine: true, pointRadius: 0, borderColor: color,
          borderWidth: width, borderDash: dash || [], tension: tension || 0, order: 0, clip: false};
}
function dotSet(data, color, r, order) {
  return {type: 'scatter', data: pts(data), pointRadius: r, pointHoverRadius: r, backgroundColor: color,
          borderWidth: 0, pointBorderWidth: 0, order: order};
}

function makeChart(id, p, datasets) {
  return new Chart(document.getElementById(id), {
    type: 'scatter',
    data: {datasets: datasets},
    options: {
      responsive: true, maintainAspectRatio: false, animation: false, devicePixelRatio: 1,
      layout: {padding: {top: p.padTop, right: p.padRight, left: 0, bottom: 0}},
      plugins: {legend: {display: false}, tooltip: {enabled: false}},
      scales: {x: axis(p, 'x'), y: axis(p, 'y')}
    },
    plugins: [decor(p)]
  });
}

// ---- panel 1 ----
makeChart('c1', {
  xMin: -2, xMax: 1, yMin: -3, yMax: 1, xTicks: p1XTicks, yTicks: p1YTicks, xDec: 1, yDec: 1,
  padTop: 30, padRight: 35, yAxisW: 161, xAxisH: 104, tickSize: 23, titleSize: 44,
  xTitleY: 919, yTitleX: 49,
  xTitle: [{t: 'log([NII]/H'}, {t: '\u03b1', sub: 1, it: 1}, {t: ')'}],
  yTitle: [{t: 'log([HeII]/H'}, {t: '\u03b2', sub: 1, it: 1}, {t: ')'}],
  notes: [
    {text: 'AGN', x: -1.8, y: -0.93, size: 44},
    {text: 'SF', x: -1.8, y: -2.63, size: 44},
    {text: 'comp', x: -0.18, y: -2.63, size: 44}
  ],
  legend: {dx: 15, dy: 13, w: 173, h: 54, font: 30, markX: 42, textX: 96,
           rows: [{type: 'dot', color: RED, r: 8, text: 'AGN', y: 27}]}
}, [
  lineSet(p1AgnLine, '#222', 2.2, [], 0.25),
  lineSet(p1SbLine, '#8a8a8a', 2, [2, 3], 0.25),
  dotSet(p1AgnRed, RED, 8, 1),
  dotSet(p1SfBlack, '#000', 7.5, 2)
]);

// ---- panel 2 ----
makeChart('c2', {
  xMin: -2, xMax: 0.9, yMin: -1.2, yMax: 1.5, xTicks: p2XTicks, yTicks: p2YTicks, xDec: 1, yDec: 1,
  padTop: 54, padRight: 35, yAxisW: 162, xAxisH: 119, tickSize: 26, titleSize: 44,
  xTitleY: 950, yTitleX: 46,
  xTitle: [{t: 'log ([NII]/'}, {t: 'H', it: 1}, {t: '\u03b1', sub: 1, it: 1}, {t: ')'}],
  yTitle: [{t: 'log ([OIII]/'}, {t: 'H', it: 1}, {t: '\u03b2', sub: 1, it: 1}, {t: ')'}],
  notes: [
    {text: 'AGN', x: -0.49, y: 1.25, size: 44},
    {text: 'HII', x: -1.19, y: -0.15, size: 44},
    {text: 'Comp', x: -0.19, y: -0.95, size: 44}
  ],
  legend: {dx: 12, dy: 13, w: 249, h: 103, font: 22, markX: 31, textX: 70,
           rows: [{type: 'dot', color: RED, r: 7.5, text: 'HeII AGN', y: 18},
                  {type: 'line', color: KBLUE, dash: [5, 3], text: 'Kauffmann+03', y: 50},
                  {type: 'line', color: ORANGE, text: 'Kewley+01', y: 83}]}
}, [
  lineSet(p2Kauffmann, KBLUE, 2, [6, 4], 0.25),
  lineSet(p2Kewley, ORANGE, 2.2, [], 0.25),
  dotSet(p2HeiiRed, RED, 7.5, 1),
  dotSet(p2Black, '#000', 7.5, 2)
]);

// ---- panel 3 ----
makeChart('c3', {
  xMin: -1.2, xMax: 0.8, yMin: -1.2, yMax: 1.5, xTicks: p3XTicks, yTicks: p3YTicks, xDec: 1, yDec: 1,
  padTop: 55, padRight: 35, yAxisW: 163, xAxisH: 115, tickSize: 26, titleSize: 44,
  xTitleY: 957, yTitleX: 44,
  xTitle: [{t: 'log ([SII]/'}, {t: 'H', it: 1}, {t: '\u03b1', sub: 1, it: 1}, {t: ')'}],
  yTitle: [{t: 'log ([OIII]/'}, {t: 'H', it: 1}, {t: '\u03b2', sub: 1, it: 1}, {t: ')'}],
  notes: [
    {text: 'Seyfert', x: -0.80, y: 1.05, size: 44},
    {text: 'HII', x: -0.90, y: -0.14, size: 44},
    {text: 'LINER', x: 0.30, y: 0.06, size: 42}
  ],
  legend: {dx: 11, dy: 12, w: 241, h: 106, font: 22, markX: 31, textX: 70,
           rows: [{type: 'line', color: ORANGE, text: 'main AGN line', y: 18},
                  {type: 'line', color: 'rgba(120,120,240,0.6)', text: 'LINER/Sy2 line', y: 50},
                  {type: 'dot', color: RED, r: 7.5, text: 'HeII AGN', y: 85}]}
}, [
  lineSet(p3MainLine, ORANGE, 2.2, [], 0.25),
  lineSet(p3LinerLine, LBLUE, 2.2, [], 0),
  dotSet(p3HeiiRed, RED, 7.5, 1),
  dotSet(p3Black, '#000', 7.5, 2)
]);

// ---- panel 4 ----
makeChart('c4', {
  xMin: -0.5, xMax: 5.3, yMin: -0.36, yMax: 2.41, xTicks: p4XTicks, yTicks: p4YTicks, xDec: 0, yDec: 1,
  padTop: 40, padRight: 41, yAxisW: 168, xAxisH: 85, tickSize: 26, titleSize: 36,
  xTitleY: 692, yTitleX: 79,
  xTitle: [{t: 'W2 - W3 (Vega mag)'}],
  yTitle: [{t: 'W1 - W2 (Vega mag)'}],
  notes: [
    {text: 'S12 AGN', x: -0.2, y: 0.92, size: 26, color: PURPLE},
    {text: '(U)LIRGs', x: 4.62, y: 0.92, size: 26, color: PURPLE},
    {text: 'J11 AGN/QSO', x: 2.18, y: 1.80, size: 26, color: '#111'},
    {text: 'Spheroids', x: 0.50, y: -0.26, size: 26, color: '#e2401e'},
    {text: 'Intermediate Disks', x: 2.0, y: -0.26, size: 26, color: '#3a9d2a'},
    {text: 'SF disks', x: 3.99, y: -0.26, size: 26, color: '#4646cc'}
  ],
  legend: {right: true, dx: 152, dy: 13, w: 143, h: 29, font: 15, markX: 23, textX: 54,
           rows: [{type: 'dot', color: RED, r: 7, text: 'HeII AGN', y: 15}]}
}, [
  lineSet(p4S12Line, PURPLE, 4, [10, 6], 0),
  lineSet(p4J11Box, '#111', 3, [3, 3], 0),
  lineSet(p4SpheroidCut, 'rgb(60,60,230)', 2, [8, 5], 0),
  lineSet(p4DiskCut, 'rgb(50,160,50)', 2, [8, 5], 0),
  dotSet(p4HeiiRed, RED, 9.5, 1),
  dotSet(p4Black, '#000', 9.5, 2)
]);
</script>
</body>
</html>
